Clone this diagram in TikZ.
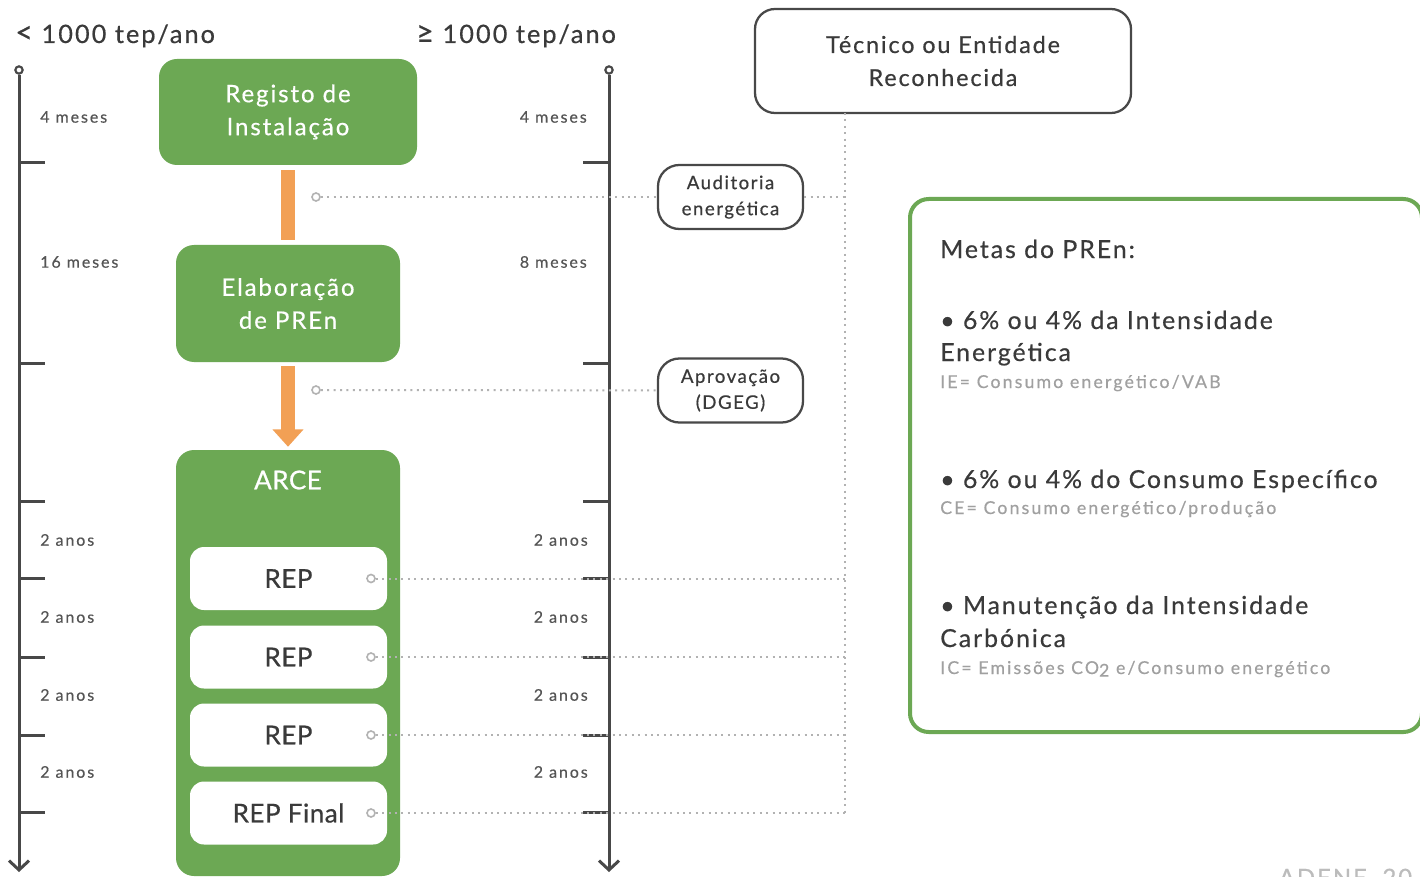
\documentclass[tikz,border=0pt]{standalone}
\usepackage{fontspec}
\setmainfont{Lato}[LetterSpace=8,FakeBold=0.5]
\newfontfamily\repfont{Lato}[LetterSpace=2,FakeBold=0.6]
\newfontfamily\smallfont{Lato}[LetterSpace=12,FakeBold=0.4]
\usetikzlibrary{arrows.meta}
\definecolor{grn}{RGB}{108,168,84}
\definecolor{org}{RGB}{242,160,85}
\definecolor{axc}{RGB}{72,72,72}
\definecolor{txt}{RGB}{58,58,58}
\definecolor{lbl}{RGB}{85,85,85}
\definecolor{sub}{RGB}{160,160,160}
\definecolor{dotc}{RGB}{178,178,178}
\tikzset{
  gbox/.style={draw=none, fill=grn, rounded corners=13.5pt, text=white, align=center,
    font=\fontsize{18}{24.75}\selectfont},
  repbox/.style={draw=none, fill=white, rounded corners=10.5pt, text=txt,
    minimum width=147.75pt, minimum height=47.25pt, font=\repfont\fontsize{19.5}{23}\selectfont},
  obox/.style={draw=axc, line width=1.7pt, fill=white, rounded corners=16pt, text=txt, align=center,
    minimum width=108.75pt, minimum height=48pt, font=\fontsize{14}{19.5}\selectfont},
  axisline/.style={draw=axc, line width=2.25pt},
  tickl/.style={text=lbl, inner xsep=0pt, font=\smallfont\fontsize{12}{14}\selectfont},
  dotline/.style={draw=dotc, line width=1.5pt, dash pattern=on 1.5pt off 3.3pt},
  pin/.style={circle, draw=dotc, line width=1.2pt, fill=white, inner sep=0pt, minimum size=6pt},
  axtop/.style={circle, draw=axc, line width=1.6pt, fill=white, inner sep=0pt, minimum size=5.5pt},
  obar/.style={draw=org, line width=10.5pt},
  hdr/.style={text=txt, inner xsep=0pt, font=\fontsize{19}{22}\selectfont},
  meta/.style={text=txt, inner xsep=0pt, font=\fontsize{18.6}{20}\selectfont, anchor=base west},
  metasub/.style={text=sub, inner xsep=0pt, font=\smallfont\fontsize{13.3}{15}\selectfont, anchor=base west}
}
\begin{document}
\begin{tikzpicture}[x=0.75pt,y=-0.75pt]
\useasboundingbox[fill=white] (0,0) rectangle (1420,877);

% headers
\node[hdr, anchor=base west] (hl) at (15,43) {{\fontsize{23}{22}\selectfont<} 1000 tep/ano};
\node[hdr, anchor=base west] (hr) at (416,43) {{\fontsize{23}{22}\selectfont≥} 1000 tep/ano};

% axes
\node[axtop] (lt) at (19,70) {};
\node[axtop] (rt) at (609,70) {};
\coordinate (lb) at (19,872);
\coordinate (rb) at (609,872);
\draw[axisline, -{Straight Barb[length=7pt,width=15pt]}] (lt) -- (lb);
\draw[axisline, -{Straight Barb[length=7pt,width=15pt]}] (rt) -- (rb);
\foreach \yy in {163,363,501,578,657,735,812}{
  \draw[axisline] (19,\yy) -- (45,\yy);
  \draw[axisline] (583,\yy) -- (609,\yy);
}

% tick labels
\node[tickl, anchor=west] (l1) at (40,117) {4 meses};
\node[tickl, anchor=west] (l2) at (40,262) {16 meses};
\node[tickl, anchor=west] (l3) at (40,540) {2 anos};
\node[tickl, anchor=west] (l4) at (40,617) {2 anos};
\node[tickl, anchor=west] (l5) at (40,695) {2 anos};
\node[tickl, anchor=west] (l6) at (40,772) {2 anos};
\node[tickl, anchor=east] (r1l) at (587,117) {4 meses};
\node[tickl, anchor=east] (r2l) at (587,262) {8 meses};
\node[tickl, anchor=east] (r3l) at (588,540) {2 anos};
\node[tickl, anchor=east] (r4l) at (588,617) {2 anos};
\node[tickl, anchor=east] (r5l) at (588,695) {2 anos};
\node[tickl, anchor=east] (r6l) at (588,772) {2 anos};

% green boxes
\node[gbox, minimum width=193.5pt, minimum height=79.5pt] (reg) at (288,112) {Registo de\\Instalação};
\node[gbox, minimum width=168pt, minimum height=87.75pt] (elab) at (288,303.5) {Elaboração\\de PREn};
\node[gbox, minimum width=168pt, minimum height=319.5pt] (arce) at (288,663) {};
\node[text=white, font=\repfont\fontsize{19.5}{23}\selectfont] (arcet) at (288,480) {ARCE};

% orange connectors
\draw[obar, shorten <=3.75pt, shorten >=3.75pt] (reg.south) -- (elab.north);
\draw[obar, shorten <=3pt, shorten >=2.25pt, -{Triangle[width=22.5pt,length=13pt]}] (elab.south) -- (arce.north);

% REP boxes
\node[repbox] (rep1) at (288.5,578.5) {REP};
\node[repbox] (rep2) at (288.5,657) {REP};
\node[repbox] (rep3) at (288.5,735) {REP};
\node[repbox] (rep4) at (288.5,813) {REP Final};

% right-side boxes
\node[obox] (aud) at (730.5,197) {Auditoria\\energética};
\node[obox] (apr) at (730.5,390.5) {Aprovação\\(DGEG)};
\node[obox, minimum width=282pt, minimum height=78pt, rounded corners=15pt,
  font=\fontsize{17.5}{24.75}\selectfont] (tec) at (943,61) {Técnico ou Entidade\\Reconhecida};

% dotted links
\coordinate (vt) at (845,113);
\coordinate (vb) at (845,813);
\draw[dotline] (vt) -- (vb);
\node[pin] (c1) at (316,197) {};
\node[pin] (c2) at (316,390) {};
\draw[dotline] (c1) -- (aud);
\draw[dotline] (aud) -- (aud -| vt);
\draw[dotline] (c2) -- (apr);
\node[pin] (p1) at (371,578.5) {};
\node[pin] (p2) at (371,657) {};
\node[pin] (p3) at (371,735) {};
\node[pin] (p4) at (371,813) {};
\draw[dotline] (p1) -- (p1 -| vt);
\draw[dotline] (p2) -- (p2 -| vt);
\draw[dotline] (p3) -- (p3 -| vt);
\draw[dotline] (p4) -- (p4 -| vb);

% Metas box
\node[draw=grn, line width=3pt, rounded corners=14pt, fill=white,
  minimum width=384pt, minimum height=399.75pt] (metas) at (1166,465.5) {};
\node[meta, font=\fontsize{18.6}{20}\selectfont] (m0) at (940,258) {Metas do PREn:};
\node[meta] (m1) at (940,329) {• 6\% ou 4\% da Intensidade};
\node[meta] (m2) at (940,361) {Energética};
\node[metasub] (m3) at (940,388) {IE= Consumo energético/VAB};
\node[meta] (m4) at (940,488) {• 6\% ou 4\% do Consumo Específico};
\node[metasub] (m5) at (940,514) {CE= Consumo energético/produção};
\node[meta] (m6) at (940,614) {• Manutenção da Intensidade};
\node[meta] (m7) at (940,647) {Carbónica};
\node[metasub] (m8) at (940,674) {IC= Emissões CO\raisebox{-0.3ex}{2} e/Consumo energético};

% source
\node[text=sub!70, anchor=north west, font=\fontsize{18}{20}\selectfont] (src) at (1274,864) {ADENE, 20};
\end{tikzpicture}
\end{document}
